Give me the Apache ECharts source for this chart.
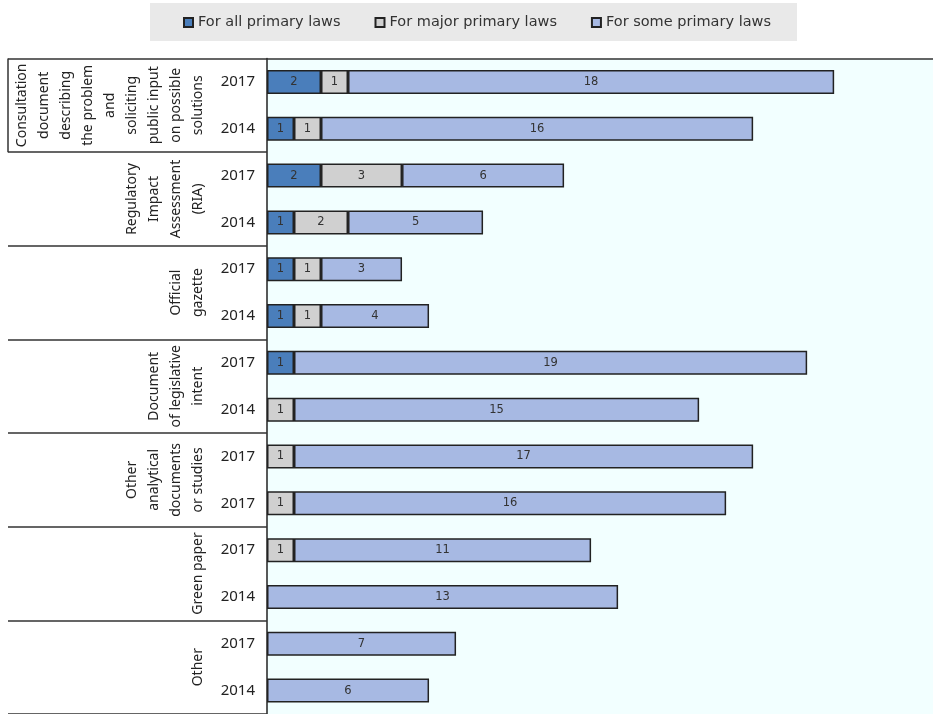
<!DOCTYPE html>
<html>
<head>
<meta charset="utf-8">
<script src="https://cdn.jsdelivr.net/npm/echarts@6/dist/echarts.min.js"></script>
<style>html,body{margin:0;padding:0;background:#fff;}#c{width:933px;height:714px;}</style>
</head>
<body>
<div id="c"></div>
<script>
var groups = [
  "Consultation\ndocument\ndescribing\nthe problem\nand\nsoliciting\npublic input\non possible\nsolutions",
  "Regulatory\nImpact\nAssessment\n(RIA)",
  "Official\ngazette",
  "Document\nof legislative\nintent",
  "Other\nanalytical\ndocuments\nor studies",
  "Green paper",
  "Other"
];
var years = ["2017","2014","2017","2014","2017","2014","2017","2014","2017","2017","2017","2014","2017","2014"];
var seriesNames = ["For all primary laws", "For major primary laws", "For some primary laws"];
var forAll   = [2, 1, 2, 1, 1, 1, 1, 0, 0, 0, 0, 0, 0, 0];
var forMajor = [1, 1, 3, 2, 1, 1, 0, 1, 1, 1, 1, 0, 0, 0];
var forSome  = [18, 16, 6, 5, 3, 4, 19, 15, 17, 16, 11, 13, 7, 6];
var colors = ["#4a7ebb", "#d0d0d0", "#a7b9e3"];

var rowCats = years.map(function(y, i){ return "r" + i; });
function prep(arr){ return arr.map(function(v){ return v === 0 ? '-' : v; }); }

var chart = echarts.init(document.getElementById('c'), null, {renderer: 'canvas'});
var series = [forAll, forMajor, forSome].map(function(arr, i){
  return {
    name: seriesNames[i], type: 'bar', stack: 'total', barWidth: 24,
    data: prep(arr),
    itemStyle: {color: colors[i], borderColor: '#222', borderWidth: 1.5},
    label: {show: true, position: 'inside', color: '#333', fontSize: 11.5, fontFamily: 'DejaVu Sans'},
    emphasis: {disabled: true}
  };
});
var option = {
  animation: false,
  backgroundColor: '#fff',
  legend: {
    left: 150, top: 3,
    padding: [12, 26, 11, 33],
    backgroundColor: '#e9e9e9',
    itemWidth: 9, itemHeight: 9, itemGap: 34,
    icon: 'rect',
    textStyle: {fontFamily: 'DejaVu Sans', fontSize: 14.5, color: '#333'},
    data: seriesNames
  },
  grid: {left: 267, top: 58.5, right: 0, height: 658, show: true, backgroundColor: '#f2ffff', borderWidth: 0},
  xAxis: [{
    type: 'value', min: 0, max: 24.66, position: 'top',
    axisLine: {show: true, lineStyle: {color: '#333', width: 1.5}},
    axisLabel: {show: false}, axisTick: {show: false}, splitLine: {show: false}
  }],
  yAxis: [{
    type: 'category', inverse: true, data: rowCats, position: 'left',
    axisLine: {show: true, onZero: false, lineStyle: {color: '#222', width: 1.5}},
    axisTick: {show: false},
    axisLabel: {
      margin: 12, color: '#222', fontFamily: 'Noto Sans', fontSize: 15,
      formatter: function(v, idx){ return years[idx]; }
    }
  }, {
    type: 'category', inverse: true, data: groups, position: 'left',
    axisLine: {show: false},
    axisTick: {show: true, length: 259, lineStyle: {color: '#333', width: 1.5}},
    axisLabel: {
      rotate: 90, margin: 58, color: '#222', fontFamily: 'Noto Sans', fontSize: 14,
      lineHeight: 22, align: 'center', verticalAlign: 'bottom', interval: 0
    }
  }],
  series: series
};
chart.setOption(option);
var yTop = chart.convertToPixel({yAxisIndex: 1}, 0);
var yBot = chart.convertToPixel({yAxisIndex: 1}, 1);
var band = yBot - yTop;
chart.setOption({
  graphic: [{
    type: 'line', shape: {x1: 8, y1: yTop - band / 2, x2: 8, y2: yTop + band / 2},
    style: {stroke: '#333', lineWidth: 1.5}
  }]
});
</script>
</body>
</html>
